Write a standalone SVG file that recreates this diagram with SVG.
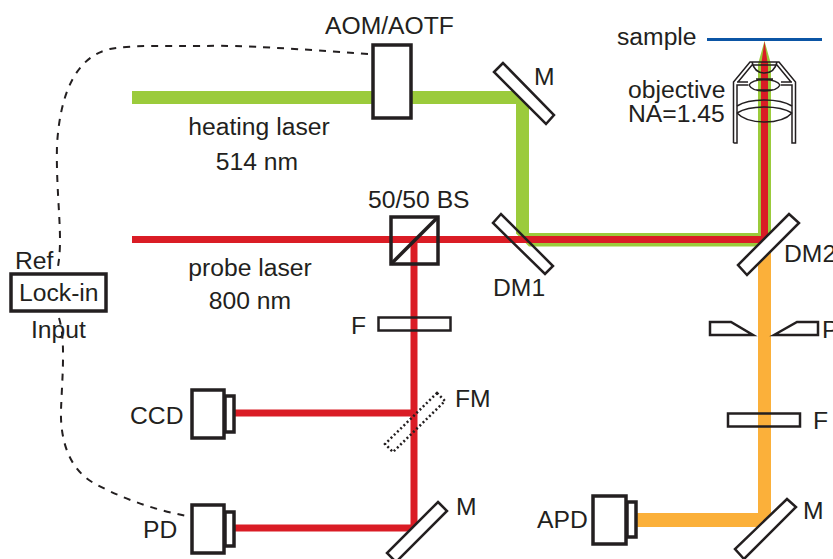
<svg xmlns="http://www.w3.org/2000/svg" width="833" height="559" viewBox="0 0 833 559">
<style>
text{font-family:"Liberation Sans",Arial,sans-serif;font-size:24.700px;fill:#231f20}
.m{text-anchor:middle}
.o{fill:#fff;stroke:#231f20;stroke-width:2.5}
.n{fill:none;stroke:#231f20;stroke-width:2.5}
.k{fill:#fff;stroke:#231f20;stroke-width:3.5}
.d{fill:none;stroke:#231f20;stroke-width:2;stroke-dasharray:7 7}
.l{fill:none;stroke:#231f20;stroke-width:1.5}
.r{fill:none;stroke:#da1c25;stroke-width:7}
</style>
<g id="connectors">
<path fill="#9bcb3b" d="M132 91H516.500L529 104V233H758V64L764.500 41L771 64V233.500L758 246.500H529L516 233.500V104H132Z"/>
<path class="r" d="M132 239.500H764.500V62"/>
<path d="M761 66L764.500 41L768 66Z" fill="#da1c25"/>
<path class="r" d="M414 240V528M235 413H414M235 528H414"/>
<path fill="#fbb03a" d="M758 250H771V513.500L757.500 527H636V513H758Z"/>
<path class="d" d="M368 54C300 49 240 45 205 46C165 46 130 45 110 49C75 57 60 95 57 145C56 180 60 215 60 240C60 252 59 262 57 272"/>
<path class="d" d="M59 318C66 340 62 380 61 410C60 445 72 470 92 482C120 498 155 510 187 516"/>
</g>
<g id="sample"><path d="M707 39.500H822" stroke="#0b55a5" stroke-width="3" fill="none"/><text x="617" y="45">sample</text></g>
<g id="objective">
<path class="l" d="M733.500 143V82L750 62H779L795.500 82V143H792V85H781M748 85H737V143H733.500M737 82H748M781 82H792M738 82L752 65H777L791 82M752 62C754 71 760 73 764.500 73C769 73 775 71 777 62"/>
<path class="l" d="M749 85C753 78 776 78 780 85C776 93 753 93 749 85ZM756 79H773M756 90H773"/>
<path class="l" d="M737 106C750 98 779 98 792 106M737 113C750 105 779 105 792 113M737 113C748 125 781 125 792 113"/>
<text x="628" y="98">objective</text><text x="628" y="122">NA=1.45</text>
</g>
<g id="aom"><rect class="k" x="373" y="45" width="38" height="73"/><text x="325" y="34">AOM/AOTF</text></g>
<g id="mirror-top"><path class="o" d="M503 63L494 72L546 124L554 115Z"/><text x="534" y="85">M</text></g>
<g id="heating-label"><text class="m" x="259" y="135">heating laser</text><text class="m" x="257" y="170">514 nm</text></g>
<g id="probe-label"><text class="m" x="250" y="276">probe laser</text><text class="m" x="250" y="309">800 nm</text></g>
<g id="bs"><rect x="391" y="217" width="47" height="47" fill="none" stroke="#231f20" stroke-width="3.500"/><path d="M391 264L438 217" stroke="#231f20" stroke-width="3.500"/><text x="368" y="208">50/50 BS</text></g>
<g id="dm1"><path class="n" d="M501 214L493 223L545 274L553 266Z"/><text x="493" y="296">DM1</text></g>
<g id="dm2"><path class="o" d="M789 214L799 223L747 275L738 265Z"/><text x="784" y="262">DM2</text></g>
<g id="f-left"><rect class="n" x="378.500" y="317.500" width="72" height="13"/><text x="351" y="334">F</text></g>
<g id="fm"><path d="M437 393L445 401L393 452L385 444Z" fill="none" stroke="#231f20" stroke-width="2.500" stroke-dasharray="2 2.500"/><text x="455" y="407">FM</text></g>
<g id="mirror-bl"><path class="o" d="M438 502L447 511L396 562L387 553Z"/><text x="456" y="515">M</text></g>
<g id="ccd"><rect class="k" x="225" y="396" width="9" height="36"/><rect class="k" x="192" y="390" width="32" height="48"/><text x="130" y="424">CCD</text></g>
<g id="pd"><rect class="k" x="225" y="512" width="9" height="34"/><rect class="k" x="192" y="505" width="32" height="48"/><text x="143" y="538">PD</text></g>
<g id="lockin"><rect x="11" y="274" width="95" height="37" fill="#fff" stroke="#231f20" stroke-width="3.500"/><text x="19" y="301">Lock-in</text><text x="15" y="269">Ref</text><text x="31" y="338">Input</text></g>
<g id="pinhole"><path class="n" d="M710 322H731L753 335H710Z"/><path class="n" d="M774 335L797 322H818V335Z"/><text x="822" y="338">P</text></g>
<g id="f-right"><rect class="n" x="728" y="413.500" width="72" height="13"/><text x="813" y="429">F</text></g>
<g id="apd"><rect class="k" x="627" y="502" width="9" height="35"/><rect class="k" x="593" y="496" width="33" height="48"/><text x="537" y="528">APD</text></g>
<g id="mirror-br"><path class="o" d="M787 499L796 507L744 559L735 549Z"/><text x="803" y="519">M</text></g>
</svg>
